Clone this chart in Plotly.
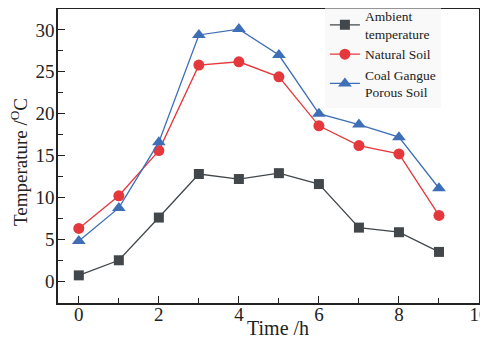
import plotly.graph_objects as go

hours = [0, 1, 2, 3, 4, 5, 6, 7, 8, 9]
ambient = [0.7, 2.5, 7.6, 12.8, 12.2, 12.9, 11.6, 6.4, 5.85, 3.5]
natural_soil = [6.3, 10.2, 15.6, 25.8, 26.2, 24.4, 18.55, 16.2, 15.2, 7.85]
coal_gangue = [4.8, 8.75, 16.6, 29.4, 30.1, 27.0, 20.0, 18.7, 17.2, 11.1]

x_ticks = [0, 2, 4, 6, 8, 10]
y_ticks = [0, 5, 10, 15, 20, 25, 30]

names = ["Ambient<br>temperature", "Natural Soil", "Coal Gangue<br>Porous Soil"]
colors = ["#41474b", "#e4383c", "#3e6eb6"]
symbols = ["square", "circle", "triangle-up"]
sizes = [10, 11, 12]

FONT = "Liberation Serif"

fig = go.Figure()
for y, n, c, s, sz in zip([ambient, natural_soil, coal_gangue], names, colors, symbols, sizes):
    fig.add_trace(go.Scatter(
        x=hours, y=y, name=n, mode="lines+markers",
        line=dict(color=c, width=1.3),
        marker=dict(symbol=s, size=sz, color=c),
    ))

axis_common = dict(
    showline=True, linecolor="#222", linewidth=1.5, mirror=True,
    ticks="inside", ticklen=7, tickwidth=1.2, tickcolor="#222",
    showgrid=False, zeroline=False, automargin=False,
    ticklabeloverflow="allow",
    tickfont=dict(family=FONT, size=19, color="#222"),
)

fig.update_xaxes(
    range=[-0.52, 10], tickvals=x_ticks, ticklabelstandoff=-7,
    minor=dict(tickvals=[1, 3, 5, 7, 9], ticks="inside", ticklen=5, tickcolor="#222", tickwidth=1.2),
    **axis_common,
)
fig.update_yaxes(
    range=[-2.6, 32.5], tickvals=y_ticks, ticklabelstandoff=-2,
    minor=dict(tickvals=[2.5, 7.5, 12.5, 17.5, 22.5, 27.5], ticks="inside", ticklen=5, tickcolor="#222", tickwidth=1.2),
    **axis_common,
)

# axis titles
fig.add_annotation(text="Time /h", xref="paper", yref="paper", x=0.5226, y=-0.085,
                   xanchor="center", yanchor="middle", showarrow=False,
                   font=dict(family=FONT, size=20, color="#222"))
fig.add_annotation(text="Temperature /<sup>O</sup>C", xref="paper", yref="paper", x=-0.094, y=0.481,
                   xanchor="center", yanchor="middle", textangle=-90, showarrow=False,
                   font=dict(family=FONT, size=19, color="#222"))

fig.update_layout(
    width=480, height=330,
    margin=dict(l=50, r=9, t=1, b=35, autoexpand=False),
    plot_bgcolor="white", paper_bgcolor="white",
    font=dict(family=FONT, color="#222"),
    legend=dict(
        x=0.634, y=1.028, xanchor="left", yanchor="top",
        bgcolor="rgba(244,244,244,0.55)", borderwidth=0,
        font=dict(family=FONT, size=13.5, color="#222"),
        itemwidth=30, tracegroupgap=0,
    ),
)

fig.write_html("out.html")
